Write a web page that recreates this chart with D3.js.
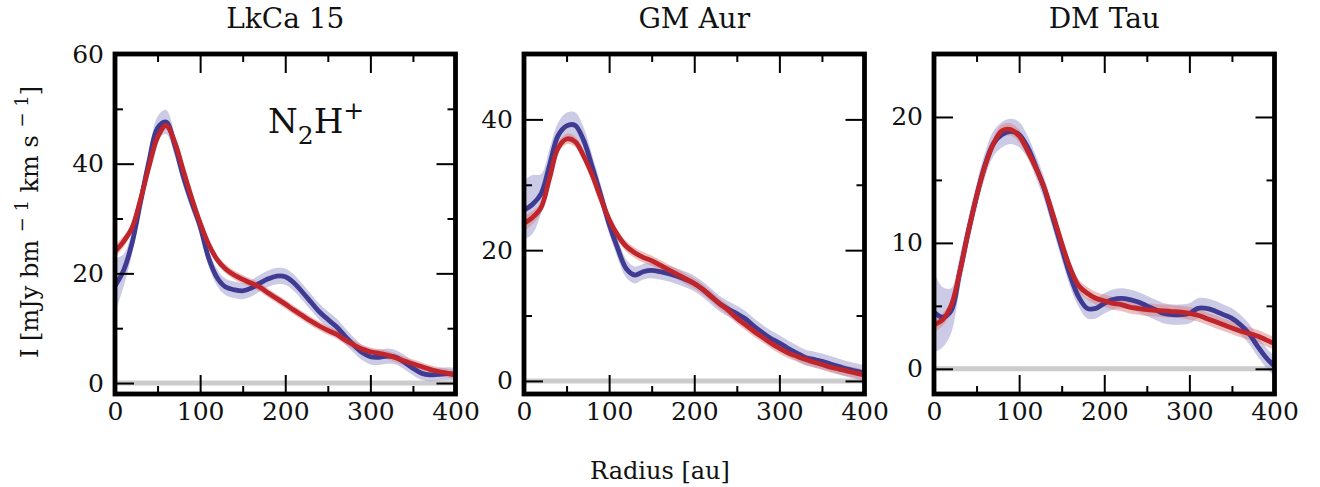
<!DOCTYPE html>
<html><head><meta charset="utf-8">
<script src="https://cdn.jsdelivr.net/npm/d3@7"></script>
<style>body{margin:0;background:#fff} svg{display:block}</style>
</head><body><svg id="c" width="1320" height="487"></svg>
<script>
// ---------- DATA ----------
const radius = [0,10,20,30,40,50,60,70,80,90,100,110,120,130,140,150,160,170,180,190,200,
  210,220,230,240,250,260,270,280,290,300,310,320,330,340,350,360,370,380,390,400];
const titles = ["LkCa 15", "GM Aur", "DM Tau"];
const xTicks = [0,100,200,300,400];
const xMinor = [50,150,250,350];
const yMax = [60, 50, 25];
const yTicks = [[0,20,40,60],[0,20,40],[0,10,20]];
const yMinor = [[10,30,50],[10,30],[5,15]];

const lkcaObs = [17.7,20.5,25.5,33,40.5,46.5,47.6,43.5,37.8,33,28.6,22.8,19.2,17.5,17.0,16.8,17.3,18.2,19.0,19.5,19.4,
  18.3,16.6,14.8,13.0,11.6,10.3,8.6,7.0,5.6,4.8,4.7,4.9,4.7,3.8,2.7,1.8,1.5,1.6,1.7,1.6];
const lkcaObsErr = [5,3,2,1.8,1.8,2.1,2.2,2,1.8,1.6,1.5,1.5,1.5,1.5,1.5,1.5,1.5,1.5,1.5,1.5,1.5,
  1.5,1.5,1.5,1.5,1.5,1.5,1.5,1.4,1.4,1.4,1.4,1.4,1.3,1.3,1.3,1.2,1.2,1.2,1.2,1.2];
const lkcaModel = [24.0,25.8,28.3,33.5,39.5,44.8,47.0,44.0,38.9,33.8,29.2,25.3,22.5,20.8,19.7,18.9,18.2,17.5,16.4,15.4,14.4,
  13.3,12.3,11.3,10.4,9.6,8.9,7.9,7.0,6.2,5.7,5.4,5.1,4.6,4.0,3.5,3.0,2.5,2.1,1.8,1.5];
const lkcaModelErr = [1.2,1,0.8,0.8,0.8,0.8,0.8,0.8,0.8,0.8,0.8,0.8,0.8,0.8,0.8,0.8,0.8,0.8,0.8,0.8,0.8,
  0.8,0.8,0.8,0.8,0.8,0.8,0.8,0.8,0.8,0.8,0.8,0.8,0.8,0.8,0.8,0.8,0.8,0.8,0.8,0.8];

const gmObs = [26.1,27.0,28.6,33.0,37.5,39.0,39.1,36.8,32.8,28.5,24.0,20.3,17.2,16.2,16.7,16.9,16.7,16.4,16.0,15.5,14.9,
  14.0,12.9,11.8,11.0,10.3,9.5,8.4,7.4,6.5,5.8,5.0,4.3,3.6,3.3,3.0,2.6,2.2,1.8,1.5,1.2];
const gmObsErr = [4.5,4.5,3,2.5,2,2,2,2,1.8,1.6,1.5,1.5,1.4,1.3,1.2,1.2,1.2,1.2,1.2,1.2,1.2,
  1.2,1.2,1.2,1.2,1.2,1.2,1.2,1.2,1.2,1.2,1.2,1.2,1.2,1.2,1.2,1.2,1.2,1.2,1.2,1.2];
const gmModel = [24.1,25.0,26.5,31.0,35.6,37.0,36.6,34.4,31.5,28.0,24.7,22.3,20.6,19.6,18.9,18.4,17.7,17.0,16.3,15.6,14.9,
  14.0,12.9,11.8,10.8,9.6,8.6,7.6,6.7,5.8,5.0,4.3,3.8,3.3,2.9,2.5,2.1,1.8,1.5,1.2,0.9];
const gmModelErr = [1.2,1,0.8,0.8,0.8,0.8,0.8,0.8,0.8,0.8,0.8,0.8,0.8,0.8,0.8,0.8,0.8,0.8,0.8,0.8,0.8,
  0.8,0.8,0.8,0.8,0.8,0.8,0.8,0.8,0.8,0.8,0.8,0.8,0.8,0.8,0.8,0.8,0.8,0.8,0.8,0.8];

const dmObs = [4.5,4.1,4.6,7.6,10.8,13.7,16.2,17.9,18.6,18.85,18.6,17.6,16.0,14.2,11.9,9.6,7.4,5.7,4.8,4.8,5.2,
  5.5,5.6,5.5,5.3,5.0,4.7,4.4,4.3,4.3,4.4,4.8,4.8,4.6,4.3,4.0,3.5,2.8,1.8,0.9,0.2];
const dmObsErr = [3.2,2.4,1.8,1.3,1.1,1.0,1.0,1.0,1.0,1.0,1.0,0.9,0.9,0.9,0.9,0.9,0.9,0.8,0.8,0.8,0.8,
  0.8,0.8,0.8,0.8,0.8,0.8,0.8,0.8,0.8,0.8,0.8,0.8,0.8,0.8,0.8,0.8,0.8,0.8,0.8,0.8];
const dmModel = [3.5,3.9,5.0,7.6,10.8,13.7,16.1,17.9,18.9,19.0,18.5,17.3,15.9,14.3,12.2,10.0,8.0,6.6,6.0,5.6,5.4,
  5.2,5.1,4.9,4.8,4.7,4.65,4.6,4.55,4.5,4.4,4.25,4.0,3.75,3.5,3.25,3.0,2.8,2.6,2.3,2.0];
const dmModelErr = [0.6,0.5,0.5,0.5,0.5,0.5,0.5,0.5,0.5,0.5,0.5,0.5,0.5,0.5,0.5,0.5,0.5,0.5,0.5,0.5,0.5,
  0.5,0.5,0.5,0.5,0.5,0.5,0.5,0.5,0.5,0.5,0.5,0.5,0.5,0.5,0.5,0.5,0.5,0.5,0.5,0.5];

const observed = [lkcaObs, gmObs, dmObs];
const observedErr = [lkcaObsErr, gmObsErr, dmObsErr];
const model = [lkcaModel, gmModel, dmModel];
const modelErr = [lkcaModelErr, gmModelErr, dmModelErr];

// ---------- LAYOUT ----------
const svg = d3.select("#c");
const FONT = "'DejaVu Serif', serif";
const panelLeft = [115, 524, 934], pw = 340.5, topY = 54, bottomY = 394;
const blue = "#3f3a92", red = "#c0252b";

titles.forEach((title, i) => {
  const x = d3.scaleLinear().domain([0, 400]).range([panelLeft[i], panelLeft[i] + pw]);
  const y = d3.scaleLinear().domain([-2, yMax[i]]).range([bottomY, topY]);
  const g = svg.append("g");
  const cid = "clip" + i;
  svg.append("clipPath").attr("id", cid).append("rect")
    .attr("x", panelLeft[i]).attr("y", topY).attr("width", pw).attr("height", bottomY - topY);

  const plot = g.append("g").attr("clip-path", `url(#${cid})`);
  plot.append("line").attr("x1", x(0)).attr("x2", x(400)).attr("y1", y(0)).attr("y2", y(0))
    .attr("stroke", "#cccccc").attr("stroke-width", 5);

  const obsData = radius.map((r, k) => ({r, v: observed[i][k], e: observedErr[i][k]}));
  const modData = radius.map((r, k) => ({r, v: model[i][k], e: modelErr[i][k]}));
  const curve = d3.curveCatmullRom.alpha(0.5);
  const area = d3.area().curve(curve).x(d => x(d.r)).y0(d => y(d.v - d.e)).y1(d => y(d.v + d.e));
  const line = d3.line().curve(curve).x(d => x(d.r)).y(d => y(d.v));

  plot.append("path").datum(obsData).attr("d", area).attr("fill", "#8f8bc8").attr("fill-opacity", 0.45);
  plot.append("path").datum(modData).attr("d", area).attr("fill", "#dc8080").attr("fill-opacity", 0.5);
  plot.append("path").datum(obsData).attr("d", line).attr("fill", "none").attr("stroke", blue).attr("stroke-width", 4.8);
  plot.append("path").datum(modData).attr("d", line).attr("fill", "none").attr("stroke", red).attr("stroke-width", 4.8);

  const styleAxis = (sel) => {
    sel.select(".domain").remove();
    sel.selectAll(".tick line").attr("stroke", "#000").attr("stroke-width", 2);
    sel.selectAll(".tick text").attr("font-family", FONT).attr("font-size", 25).attr("fill", "#111");
  };
  g.append("g").attr("transform", `translate(0,${bottomY})`)
    .call(d3.axisBottom(x).tickValues(xTicks).tickSizeInner(-19).tickSizeOuter(0).tickPadding(8).tickFormat(d3.format("d")))
    .call(styleAxis);
  g.append("g").attr("transform", `translate(0,${bottomY})`)
    .call(d3.axisBottom(x).tickValues(xMinor).tickSizeInner(-8).tickSizeOuter(0).tickFormat(""))
    .call(styleAxis);
  g.append("g").attr("transform", `translate(0,${topY})`)
    .call(d3.axisTop(x).tickValues(xTicks).tickSizeInner(-19).tickSizeOuter(0).tickFormat(""))
    .call(styleAxis);
  g.append("g").attr("transform", `translate(0,${topY})`)
    .call(d3.axisTop(x).tickValues(xMinor).tickSizeInner(-8).tickSizeOuter(0).tickFormat(""))
    .call(styleAxis);
  g.append("g").attr("transform", `translate(${panelLeft[i]},0)`)
    .call(d3.axisLeft(y).tickValues(yTicks[i]).tickSizeInner(-19).tickSizeOuter(0).tickPadding(11).tickFormat(d3.format("d")))
    .call(styleAxis);
  g.append("g").attr("transform", `translate(${panelLeft[i]},0)`)
    .call(d3.axisLeft(y).tickValues(yMinor[i]).tickSizeInner(-8).tickSizeOuter(0).tickFormat(""))
    .call(styleAxis);
  g.append("g").attr("transform", `translate(${panelLeft[i] + pw},0)`)
    .call(d3.axisRight(y).tickValues(yTicks[i]).tickSizeInner(-19).tickSizeOuter(0).tickFormat(""))
    .call(styleAxis);
  g.append("g").attr("transform", `translate(${panelLeft[i] + pw},0)`)
    .call(d3.axisRight(y).tickValues(yMinor[i]).tickSizeInner(-8).tickSizeOuter(0).tickFormat(""))
    .call(styleAxis);

  g.append("rect").attr("x", panelLeft[i]).attr("y", topY).attr("width", pw).attr("height", bottomY - topY)
    .attr("fill", "none").attr("stroke", "#000").attr("stroke-width", 4.8);

  g.append("text").attr("x", panelLeft[i] + pw / 2).attr("y", 28).attr("text-anchor", "middle")
    .attr("font-family", FONT).attr("font-size", 28).attr("fill", "#111").text(title);
});

const lab = svg.append("text").attr("x", 268).attr("y", 133).attr("font-family", FONT)
  .attr("font-size", 34).attr("fill", "#111");
lab.append("tspan").text("N");
lab.append("tspan").attr("font-size", 25).attr("dy", 11).text("2");
lab.append("tspan").attr("dy", -11).text("H");
lab.append("tspan").attr("font-size", 25).attr("dy", -14).text("+");

const yl = svg.append("text").attr("transform", "translate(38,222) rotate(-90)")
  .attr("text-anchor", "middle").attr("font-family", FONT).attr("font-size", 24).attr("fill", "#111");
yl.append("tspan").text("I [mJy bm ");
yl.append("tspan").attr("font-size", 18).attr("dy", -10).text("− 1");
yl.append("tspan").attr("dy", 10).text(" km s ");
yl.append("tspan").attr("font-size", 18).attr("dy", -10).text("− 1");
yl.append("tspan").attr("dy", 10).text("]");

svg.append("text").attr("x", 660).attr("y", 479).attr("text-anchor", "middle")
  .attr("font-family", FONT).attr("font-size", 24).attr("fill", "#111").text("Radius [au]");
</script></body></html>
